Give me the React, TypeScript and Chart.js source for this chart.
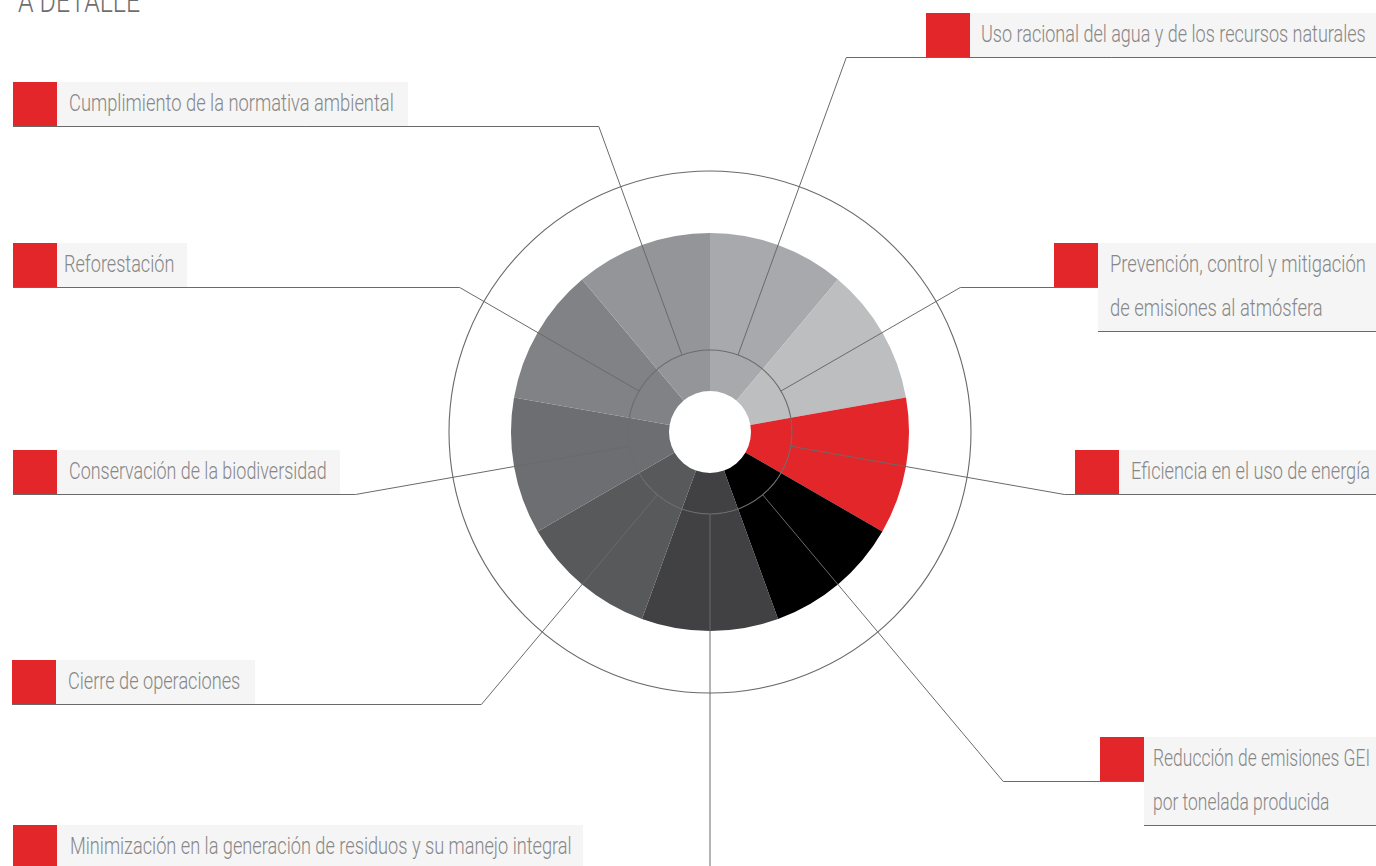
import React, { useEffect, useLayoutEffect, useRef } from "react";
import { Chart, registerables } from "chart.js";

Chart.register(...registerables);

// ---------- data ----------
const CATEGORIES = [
  "Uso racional del agua y de los recursos naturales",
  "Prevención, control y mitigación de emisiones al atmósfera",
  "Eficiencia en el uso de energía",
  "Reducción de emisiones GEI por tonelada producida",
  "Minimización en la generación de residuos y su manejo integral",
  "Cierre de operaciones",
  "Conservación de la biodiversidad",
  "Reforestación",
  "Cumplimiento de la normativa ambiental",
];
const OUTER_VALUES = [1, 1, 1, 1, 1, 1, 1, 1, 1];
const INNER_VALUES = [1, 1, 1, 1, 1, 1, 1, 1, 1];
const LABEL_TEXT_LINES: string[][] = [
  ["Uso racional del agua y de los recursos naturales"],
  ["Prevención, control y mitigación", "de emisiones al atmósfera"],
  ["Eficiencia en el uso de energía"],
  ["Reducción de emisiones GEI", "por tonelada producida"],
  ["Minimización en la generación de residuos y su manejo integral"],
  ["Cierre de operaciones"],
  ["Conservación de la biodiversidad"],
  ["Reforestación"],
  ["Cumplimiento de la normativa ambiental"],
];
const TITLE = "A DETALLE";

// ---------- styles / layout ----------
const W = 1376;
const H = 866;
const SEGMENT_COLORS = [
  "#a7a9ac",
  "#bcbec0",
  "#e3262a",
  "#000000",
  "#414042",
  "#58595b",
  "#6d6e71",
  "#808285",
  "#939598",
];
const RED = "#e3262a";
const LINE_COLOR = "#6a6a6a";
const BOX_BG = "#f5f5f5";
const TEXT_COLOR = "#878787";
const ROW_H = 44;
const SQ = 44;
const OUTER_RING_RATIO = 261 / 199;
const FONT = 'Roboto, "Noto Sans", sans-serif';
const FONT_SIZE = 23;

type Layout = {
  side: "left" | "right";
  squareX: number;
  top: number;
  boxRight: number;
  padLeft: number;
  textWidth: number;
};
const LABEL_LAYOUT: Layout[] = [
  { side: "right", squareX: 926, top: 13, boxRight: W, padLeft: 11, textWidth: 385 },
  { side: "right", squareX: 1054, top: 243, boxRight: W, padLeft: 12, textWidth: 256 },
  { side: "right", squareX: 1075, top: 450, boxRight: W, padLeft: 12, textWidth: 239 },
  { side: "right", squareX: 1100, top: 737, boxRight: W, padLeft: 9, textWidth: 217 },
  { side: "left", squareX: 13, top: 825, boxRight: 583, padLeft: 13, textWidth: 502 },
  { side: "left", squareX: 12, top: 660, boxRight: 255, padLeft: 12, textWidth: 172 },
  { side: "left", squareX: 13, top: 450, boxRight: 340, padLeft: 12, textWidth: 258 },
  { side: "left", squareX: 13, top: 243, boxRight: 187, padLeft: 7, textWidth: 110 },
  { side: "left", squareX: 13, top: 82, boxRight: 408, padLeft: 12, textWidth: 325 },
];
const TITLE_LAYOUT = { left: 18, baseline: 12, width: 122, fontSize: 32 };

const leaderPlugin = {
  id: "leaders",
  afterDraw(chart: any) {
    const ctx = chart.ctx as CanvasRenderingContext2D;
    const inner = chart.getDatasetMeta(1).data as any[];
    const outer = chart.getDatasetMeta(0).data as any[];
    if (!inner.length) return;
    const cx = inner[0].x;
    const cy = inner[0].y;
    const ringR = inner[0].outerRadius;
    const outerR = outer[0].outerRadius * OUTER_RING_RATIO;
    ctx.save();
    ctx.strokeStyle = LINE_COLOR;
    ctx.lineWidth = 1.1;
    ctx.beginPath();
    ctx.arc(cx, cy, ringR, 0, Math.PI * 2);
    ctx.stroke();
    ctx.beginPath();
    ctx.arc(cx, cy, outerR, 0, Math.PI * 2);
    ctx.stroke();
    ctx.lineWidth = 1;
    inner.forEach((arc: any, i: number) => {
      const lay = LABEL_LAYOUT[i];
      const lines = LABEL_TEXT_LINES[i].length;
      const a = (arc.startAngle + arc.endAngle) / 2;
      const lineY = lay.top + ROW_H + 0.5;
      const x0 = cx + ringR * Math.cos(a);
      const y0 = cy + ringR * Math.sin(a);
      const s = Math.sin(a);
      const t = Math.abs(s) < 1e-6 ? 2000 : (lineY - cy) / s;
      const ex = cx + t * Math.cos(a);
      const ey = cy + t * s;
      let endX: number;
      if (lay.side === "right") endX = lines > 1 ? lay.squareX + SQ : lay.boxRight;
      else endX = lay.squareX;
      ctx.beginPath();
      ctx.moveTo(x0, y0);
      ctx.lineTo(ex, ey);
      ctx.lineTo(endX, ey);
      ctx.stroke();
    });
    ctx.restore();
  },
};

function Label({ i }: { i: number }) {
  const lay = LABEL_LAYOUT[i];
  const lines = LABEL_TEXT_LINES[i];
  const boxLeft = lay.squareX + SQ;
  const spans = useRef<(HTMLSpanElement | null)[]>([]);

  useLayoutEffect(() => {
    const els = spans.current.filter(Boolean) as HTMLSpanElement[];
    const maxW = Math.max(...els.map((e) => e.offsetWidth));
    const sc = maxW > 0 ? lay.textWidth / maxW : 1;
    els.forEach((e) => {
      e.style.transform = `scaleX(${sc})`;
    });
  }, []);

  return (
    <>
      <div
        style={{
          position: "absolute",
          left: lay.squareX,
          top: lay.top,
          width: SQ,
          height: SQ,
          background: RED,
        }}
      />
      <div
        style={{
          position: "absolute",
          left: boxLeft,
          top: lay.top,
          width: lay.boxRight - boxLeft,
          height: ROW_H * lines.length,
          background: BOX_BG,
          borderBottom: lines.length > 1 ? `1px solid ${LINE_COLOR}` : "none",
          overflow: "hidden",
        }}
      >
        {lines.map((ln, k) => (
          <div
            key={k}
            style={{
              paddingLeft: lay.padLeft,
              whiteSpace: "nowrap",
              height: ROW_H,
              lineHeight: `${ROW_H}px`,
            }}
          >
            <span
              ref={(el) => {
                spans.current[k] = el;
              }}
              style={{
                display: "inline-block",
                fontFamily: FONT,
                fontWeight: 300,
                fontSize: FONT_SIZE,
                color: TEXT_COLOR,
                transformOrigin: "left center",
              }}
            >
              {ln}
            </span>
          </div>
        ))}
      </div>
    </>
  );
}

function Title() {
  const ref = useRef<HTMLSpanElement | null>(null);
  useLayoutEffect(() => {
    const e = ref.current;
    if (!e) return;
    const sc = TITLE_LAYOUT.width / e.offsetWidth;
    e.style.transform = `scaleX(${sc})`;
  }, []);
  const fs = TITLE_LAYOUT.fontSize;
  // Roboto baseline sits ~0.84em below the top of a 1em line box
  return (
    <div
      style={{
        position: "absolute",
        left: TITLE_LAYOUT.left,
        top: Math.round(TITLE_LAYOUT.baseline - fs * 0.84),
        height: fs,
        lineHeight: `${fs}px`,
        whiteSpace: "nowrap",
      }}
    >
      <span
        ref={ref}
        style={{
          display: "inline-block",
          fontFamily: FONT,
          fontWeight: 300,
          fontSize: fs,
          color: "#6d6e71",
          transformOrigin: "left center",
        }}
      >
        {TITLE}
      </span>
    </div>
  );
}

export default function App() {
  const ref = useRef<HTMLCanvasElement | null>(null);

  useEffect(() => {
    document.body.style.margin = "0";
    document.documentElement.style.overflow = "hidden";
    const canvas = ref.current;
    if (!canvas) return;
    const chart = new Chart(canvas, {
      type: "doughnut",
      data: {
        labels: CATEGORIES,
        datasets: [
          {
            data: OUTER_VALUES,
            backgroundColor: SEGMENT_COLORS,
            borderWidth: 0,
            hoverOffset: 0,
            weight: 117,
          } as any,
          {
            data: INNER_VALUES,
            backgroundColor: SEGMENT_COLORS,
            borderWidth: 0,
            hoverOffset: 0,
            weight: 41,
          } as any,
        ],
      },
      options: {
        responsive: false,
        animation: false,
        cutout: 41,
        events: [],
        layout: { padding: { left: 511, right: 467, top: 233, bottom: 235 } },
        plugins: { legend: { display: false }, tooltip: { enabled: false } },
      } as any,
      plugins: [leaderPlugin],
    });
    return () => chart.destroy();
  }, []);

  return (
    <div style={{ position: "relative", width: W, height: H, overflow: "hidden", background: "#fff" }}>
      <Title />
      {LABEL_LAYOUT.map((_, i) => (
        <Label key={i} i={i} />
      ))}
      <canvas
        ref={ref}
        width={W}
        height={H}
        style={{ position: "absolute", left: 0, top: 0, width: W, height: H, pointerEvents: "none" }}
      />
    </div>
  );
}
